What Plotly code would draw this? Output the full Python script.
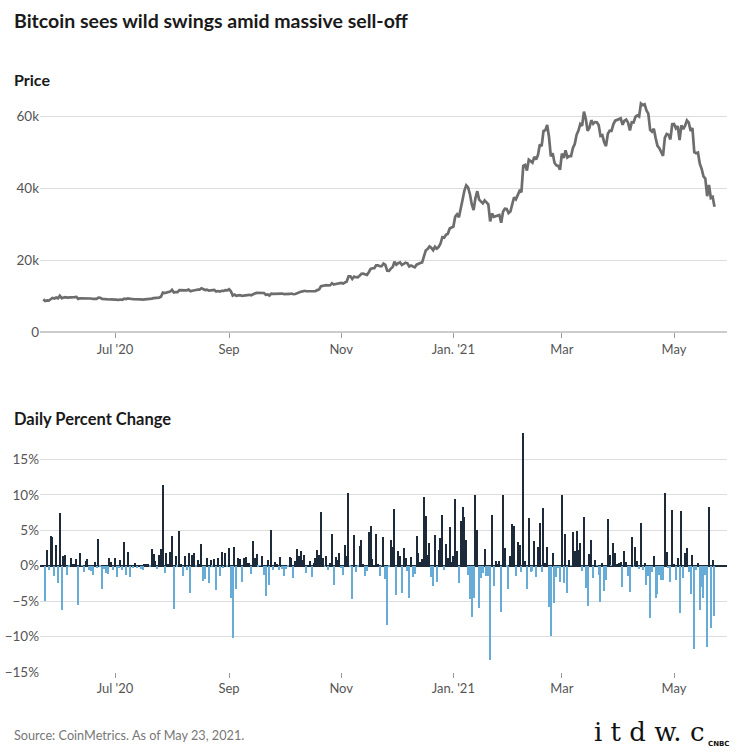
import plotly.graph_objects as go
import pandas as pd

# Daily Bitcoin price (USD), 2020-05-23 .. 2021-05-23
p2020_05 = [9181, 8715, 8900, 8842, 9205, 9575, 9427, 9698, 9461]
p2020_06 = [10167, 9529, 9657, 9800, 9665, 9653, 9759, 9772, 9781, 9875, 9321, 9480, 9475, 9386, 9450,
            9538, 9480, 9411, 9288, 9332, 9303, 9648, 9629, 9313, 9264, 9162, 9046, 9143, 9190, 9138]
p2020_07 = [9232, 9086, 9058, 9135, 9073, 9375, 9253, 9428, 9277, 9278, 9240, 9277, 9243, 9243, 9192, 9132,
            9151, 9159, 9185, 9165, 9374, 9526, 9581, 9536, 9677, 9905, 11029, 10906, 11101, 11112, 11323]
p2020_08 = [11801, 11071, 11219, 11191, 11744, 11762, 11595, 11754, 11675, 11878, 11411, 11584, 11785, 11769,
            11865, 11892, 12254, 11991, 11758, 11878, 11592, 11681, 11664, 11775, 11366, 11488, 11323, 11542,
            11507, 11711, 11680]
p2020_09 = [11970, 11414, 10245, 10512, 10169, 10280, 10370, 10131, 10242, 10364, 10400, 10442, 10323, 10680,
            10796, 10974, 10948, 10945, 11094, 10938, 10462, 10538, 10246, 10761, 10693, 10750, 10775, 10709,
            10844, 10784]
p2020_10 = [10620, 10575, 10550, 10677, 10793, 10604, 10669, 10916, 11065, 11296, 11385, 11555, 11425, 11430,
            11505, 11323, 11359, 11484, 11742, 11917, 12824, 12966, 12932, 13108, 13031, 13075, 13655, 13272,
            13437, 13547, 13781]
p2020_11 = [13737, 13550, 13951, 14133, 15579, 15565, 14833, 15479, 15332, 15290, 15701, 16276, 16317, 16068,
            15955, 16716, 17646, 17804, 17817, 18621, 18642, 18370, 18364, 19107, 18732, 17150, 17109, 17718,
            18178, 19625]
p2020_12 = [18802, 19201, 19446, 18699, 19155, 19346, 19191, 18321, 18553, 18264, 18058, 18803, 19142, 19247,
            19417, 21310, 22806, 23138, 23869, 23478, 22803, 23783, 23241, 23735, 24665, 26437, 26273, 27084,
            27362, 28841, 29002]
p2021_01 = [29374, 32127, 32782, 31971, 33992, 36824, 39371, 40797, 40254, 38357, 35567, 33923, 37316, 39188,
            36825, 36178, 35792, 36630, 36069, 35547, 30826, 33005, 32067, 32289, 32366, 32569, 30432, 33467,
            34317, 34270, 33114]
p2021_02 = [33538, 35510, 37473, 36926, 38144, 39266, 38903, 46196, 46481, 44919, 47910, 47504, 47106, 48717,
            47945, 49200, 52149, 51679, 55888, 56100, 57539, 54208, 48825, 49706, 47093, 46339, 46188, 45137]
p2021_03 = [49631, 48378, 50538, 48561, 48927, 48913, 51206, 52246, 54824, 56008, 57805, 57333, 61243, 59302,
            55907, 56804, 58870, 57859, 58346, 58313, 57524, 54529, 54738, 52775, 51705, 55137, 55974, 55948,
            57750, 58760, 58918]
p2021_04 = [59095, 59384, 57604, 58758, 59057, 58192, 56048, 58323, 58245, 59793, 60204, 59893, 63504, 63110,
            63315, 61572, 60684, 56217, 55725, 56474, 53906, 51763, 51094, 50051, 49005, 54022, 55034, 54825,
            53556, 57750]
p2021_05 = [57828, 56631, 57201, 53333, 57425, 56397, 57356, 58804, 58233, 55860, 56705, 50000, 49700, 49900,
            46800, 45400, 43300, 42700, 37800, 40900, 37300, 37600, 34900]

prices = (p2020_05 + p2020_06 + p2020_07 + p2020_08 + p2020_09 + p2020_10 + p2020_11 + p2020_12
          + p2021_01 + p2021_02 + p2021_03 + p2021_04 + p2021_05)
dates = pd.date_range("2020-05-23", periods=len(prices), freq="D")

# daily percent change derived from the price series
pct = [(prices[i] / prices[i - 1] - 1) * 100 for i in range(1, len(prices))]
pct_dates = dates[1:]

x_tickvals = ["2020-07-01", "2020-09-01", "2020-11-01", "2021-01-01", "2021-03-01", "2021-05-01"]
x_ticktext = ["Jul '20", "Sep", "Nov", "Jan. '21", "Mar", "May"]
price_tickvals = [0, 20000, 40000, 60000]
price_ticktext = ["0", "20k", "40k", "60k"]
pct_tickvals = [-15, -10, -5, 0, 5, 10, 15]
pct_ticktext = ["\u221215%", "\u221210%", "\u22125%", "0%", "5%", "10%", "15%"]

POS = "#1c2a3a"
NEG = "#67acd7"
FONT = "Lato"
W, H = 740, 755
K = 755 / 746  # vertical calibration


def py(px):
    """pixel row (from top) -> paper fraction"""
    return 1 - px * K / H


fig = go.Figure()
fig.add_trace(go.Scatter(x=dates, y=prices, mode="lines",
                         line=dict(color="#6d6d6d", width=2.7),
                         xaxis="x", yaxis="y", hoverinfo="skip"))
fig.add_trace(go.Bar(x=pct_dates, y=pct,
                     marker=dict(color=[POS if v >= 0 else NEG for v in pct], line=dict(width=0)),
                     width=0.62 * 86400000, xaxis="x2", yaxis="y2", hoverinfo="skip"))

xr = ["2020-05-21 05:00", "2021-05-29 19:00"]
xdom = [40 / W, 727 / W]
common_x = dict(range=xr, domain=xdom, tickvals=x_tickvals, ticktext=x_ticktext,
                ticks="outside", ticklen=5, tickwidth=1, tickcolor="#999999",
                showgrid=False, showline=False, zeroline=False,
                tickfont=dict(family=FONT, size=13, color="#555555"))

fig.update_layout(
    width=W, height=H,
    margin=dict(l=0, r=0, t=0, b=0),
    paper_bgcolor="white", plot_bgcolor="white",
    showlegend=False,
    xaxis=dict(anchor="y", **common_x),
    xaxis2=dict(anchor="y2", **common_x),
    yaxis=dict(anchor="x", domain=[py(332), py(94.4)], range=[0, 66000],
               tickvals=price_tickvals, ticktext=price_ticktext,
               showgrid=True, gridcolor="#dddddd", gridwidth=1,
               zeroline=True, zerolinecolor="#cccccc", zerolinewidth=1.5,
               showline=False, ticks="",
               tickfont=dict(family=FONT, size=13.5, color="#555555")),
    yaxis2=dict(anchor="x2", domain=[py(671), py(430.6)], range=[-15, 19],
                tickvals=pct_tickvals, ticktext=pct_ticktext,
                showgrid=True, gridcolor="#dddddd", gridwidth=1,
                zeroline=True, zerolinecolor=POS, zerolinewidth=2,
                showline=False, ticks="",
                tickfont=dict(family=FONT, size=13.5, color="#555555")),
    bargap=0,
)

annots = [
    dict(text="<b>Bitcoin sees wild swings amid massive sell-off</b>", x=12 / W, y=py(20),
         font=dict(family=FONT, size=19.5, color="#1a1a1a")),
    dict(text="<b>Price</b>", x=12 / W, y=py(79),
         font=dict(family=FONT, size=16, color="#1a1a1a")),
    dict(text="<b>Daily Percent Change</b>", x=12 / W, y=py(418),
         font=dict(family=FONT, size=16.5, color="#1a1a1a")),
    dict(text="Source: CoinMetrics. As of May 23, 2021.", x=12 / W, y=py(734),
         font=dict(family=FONT, size=12.7, color="#777777")),
    dict(text="i t d w. c", x=592 / W, y=py(731),
         font=dict(family="DejaVu Serif", size=26, color="#111111")),
    dict(text="<b>CNBC</b>", x=706 / W, y=py(743),
         font=dict(family="DejaVu Sans", size=7, color="#111111")),
]
for a in annots:
    fig.add_annotation(xref="paper", yref="paper", xanchor="left", yanchor="middle",
                       showarrow=False, **a)

fig.write_html("out.html", config={"displayModeBar": False},
               post_script="document.body.style.margin='0';document.body.style.overflow='hidden';")
